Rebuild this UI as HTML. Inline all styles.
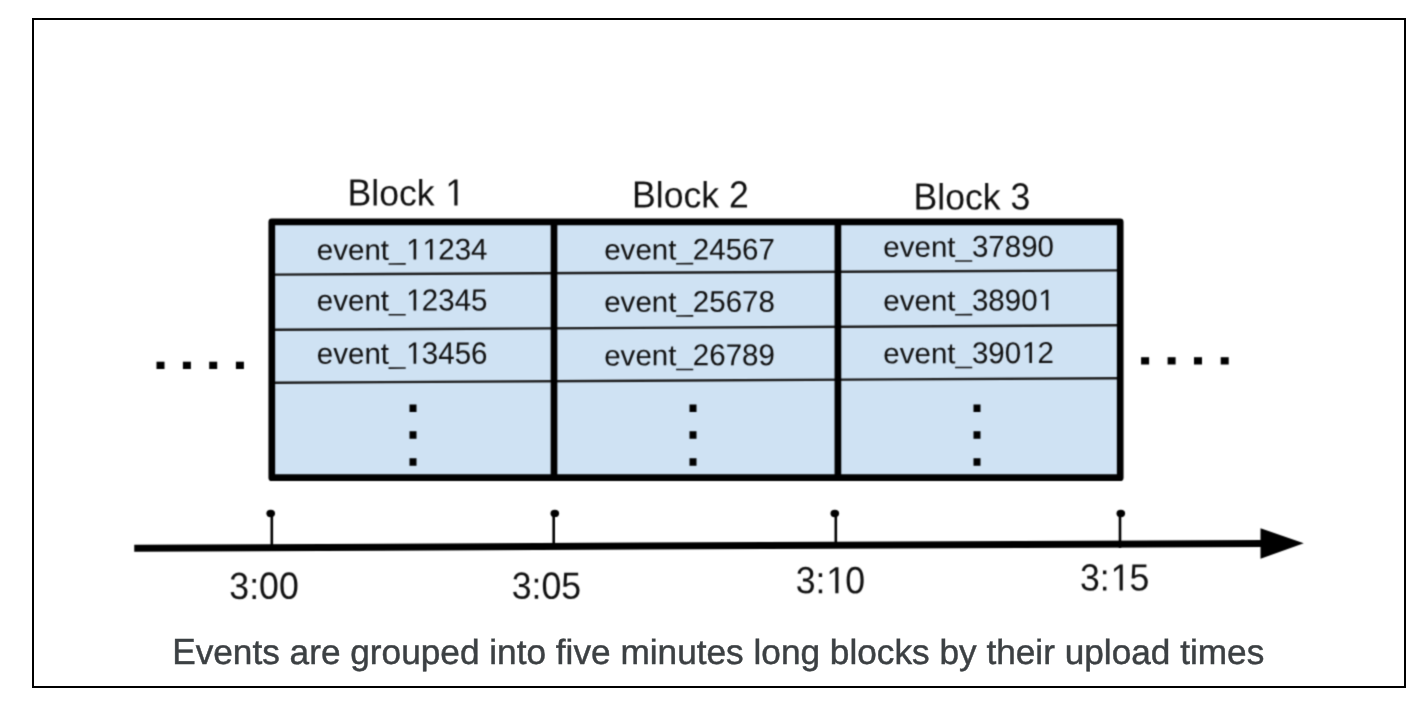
<!DOCTYPE html>
<html>
<head>
<meta charset="utf-8">
<title>Events grouped into blocks</title>
<style>
html,body{margin:0;padding:0;background:#ffffff;}
body{width:1426px;height:706px;overflow:hidden;position:relative;font-family:"Liberation Sans",sans-serif;}
svg{position:absolute;left:0;top:0;display:block;}
text{font-family:"Liberation Sans",sans-serif;text-rendering:geometricPrecision;}
.blk,.ev,.tm{font-kerning:none;fill:#111111;}
.blk{font-size:34px;}
.ev{font-size:29px;}
.tm{font-size:35px;}
.cap{font-size:35px;fill:#3c4043;stroke:#3c4043;stroke-width:0.45px;}
</style>
</head>
<body>
<svg width="1426" height="706" viewBox="0 0 1426 706">
  <!-- outer frame -->
  <rect x="33" y="19" width="1372" height="668" fill="#ffffff" stroke="#000000" stroke-width="2"/>

  <defs>
    <filter id="soft" x="-2%" y="-2%" width="104%" height="104%" color-interpolation-filters="sRGB">
      <feConvolveMatrix order="3" kernelMatrix="1 3 1 3 9 3 1 3 1" edgeMode="none"/>
    </filter>
    <filter id="gray" x="-1%" y="-20%" width="102%" height="140%" color-interpolation-filters="sRGB">
      <feOffset dx="0" dy="0"/>
    </filter>
  </defs>

  <!-- the diagram itself is a slightly soft (upscaled) bitmap in the original -->
  <g filter="url(#soft)">
  <!-- table fill -->
  <rect x="272" y="222" width="848.3" height="255.8" fill="#cfe2f3"/>

  <!-- row separators (slightly tilted) -->
  <g stroke="#1c1c1c" stroke-width="2.4" fill="none">
    <line x1="274" y1="274.6" x2="1118" y2="270.4"/>
    <line x1="274" y1="329.8" x2="1118" y2="325.3"/>
    <line x1="274" y1="382.7" x2="1118" y2="378.2"/>
  </g>

  <!-- table heavy borders -->
  <g stroke="#000000" stroke-width="6.7" fill="none" stroke-linejoin="round" stroke-linecap="butt">
    <rect x="271.8" y="221.9" width="848.4" height="255.8"/>
    <line x1="554" y1="222" x2="554" y2="477.8"/>
    <line x1="837.9" y1="222" x2="837.9" y2="477.8"/>
  </g>

  <!-- block labels -->
  <g transform="translate(347.5 205.55) rotate(-0.05) scale(1.048 1)"><text class="blk" transform="translate(0.00 0) scale(1 1.1128)">B</text><text class="blk" transform="translate(22.68 0) scale(1 1.0700)">lock </text><path d="M515 0V1237L197 1010V1180L530 1409H696V0Z" fill="#111111" transform="translate(93.42 0) scale(0.01660 -0.01847)"/></g>
  <g transform="translate(632.05 207.55) rotate(-0.05) scale(1.048 1)"><text class="blk" transform="translate(0.00 0) scale(1 1.1128)">B</text><text class="blk" transform="translate(22.68 0) scale(1 1.0700)">lock </text><text class="blk" transform="translate(92.59 0) scale(1 1.1128)">2</text></g>
  <g transform="translate(913.5 209.5) rotate(-0.05) scale(1.048 1)"><text class="blk" transform="translate(0.00 0) scale(1 1.1128)">B</text><text class="blk" transform="translate(22.68 0) scale(1 1.0700)">lock </text><text class="blk" transform="translate(92.59 0) scale(1 1.1128)">3</text></g>

  <!-- events -->
  <g transform="translate(316.8 259.7) rotate(-0.05) scale(1.018 1)"><text class="ev" transform="translate(0.00 0) scale(1 0.9904)">event</text><text class="ev" transform="translate(70.94 0) scale(1 0.8616)">_</text><path d="M515 0V1237L197 1010V1180L530 1409H696V0Z" fill="#111111" transform="translate(87.78 0) scale(0.01416 -0.01458)"/><path d="M515 0V1237L197 1010V1180L530 1409H696V0Z" fill="#111111" transform="translate(103.91 0) scale(0.01416 -0.01458)"/><text class="ev" transform="translate(119.33 0) scale(1 1.0300)">234</text></g>
  <g transform="translate(316.8 310.55) rotate(-0.05) scale(1.018 1)"><text class="ev" transform="translate(0.00 0) scale(1 1.0096)">event</text><text class="ev" transform="translate(70.94 0) scale(1 0.8784)">_</text><path d="M515 0V1237L197 1010V1180L530 1409H696V0Z" fill="#111111" transform="translate(87.78 0) scale(0.01416 -0.01487)"/><text class="ev" transform="translate(103.20 0) scale(1 1.0500)">2345</text></g>
  <g transform="translate(316.8 363.8) rotate(-0.05) scale(1.018 1)"><text class="ev" transform="translate(0.00 0) scale(1 1.0240)">event</text><text class="ev" transform="translate(70.94 0) scale(1 0.8909)">_</text><path d="M515 0V1237L197 1010V1180L530 1409H696V0Z" fill="#111111" transform="translate(87.78 0) scale(0.01416 -0.01508)"/><text class="ev" transform="translate(103.20 0) scale(1 1.0650)">3456</text></g>

  <g transform="translate(604.2 259.6) rotate(-0.05) scale(1.018 1)"><text class="ev" transform="translate(0.00 0) scale(1 0.9904)">event</text><text class="ev" transform="translate(70.94 0) scale(1 0.8616)">_</text><text class="ev" transform="translate(87.07 0) scale(1 1.0300)">24567</text></g>
  <g transform="translate(604.2 311.85) rotate(-0.05) scale(1.018 1)"><text class="ev" transform="translate(0.00 0) scale(1 0.9904)">event</text><text class="ev" transform="translate(70.94 0) scale(1 0.8616)">_</text><text class="ev" transform="translate(87.07 0) scale(1 1.0300)">25678</text></g>
  <g transform="translate(604.2 365.4) rotate(-0.05) scale(1.018 1)"><text class="ev" transform="translate(0.00 0) scale(1 1.0000)">event</text><text class="ev" transform="translate(70.94 0) scale(1 0.8700)">_</text><text class="ev" transform="translate(87.07 0) scale(1 1.0400)">26789</text></g>

  <g transform="translate(883.3 256.85) rotate(-0.05) scale(1.018 1)"><text class="ev" transform="translate(0.00 0) scale(1 1.0000)">event</text><text class="ev" transform="translate(70.94 0) scale(1 0.8700)">_</text><text class="ev" transform="translate(87.07 0) scale(1 1.0400)">37890</text></g>
  <g transform="translate(883.3 310.5) rotate(-0.05) scale(1.018 1)"><text class="ev" transform="translate(0.00 0) scale(1 0.9952)">event</text><text class="ev" transform="translate(70.94 0) scale(1 0.8658)">_</text><text class="ev" transform="translate(87.07 0) scale(1 1.0350)">3890</text><path d="M515 0V1237L197 1010V1180L530 1409H696V0Z" fill="#111111" transform="translate(152.29 0) scale(0.01416 -0.01466)"/></g>
  <g transform="translate(883.3 363.25) rotate(-0.05) scale(1.018 1)"><text class="ev" transform="translate(0.00 0) scale(1 1.0000)">event</text><text class="ev" transform="translate(70.94 0) scale(1 0.8700)">_</text><text class="ev" transform="translate(87.07 0) scale(1 1.0400)">390</text><path d="M515 0V1237L197 1010V1180L530 1409H696V0Z" fill="#111111" transform="translate(136.16 0) scale(0.01416 -0.01473)"/><text class="ev" transform="translate(151.58 0) scale(1 1.0400)">2</text></g>

  <!-- vertical dots in table -->
  <g fill="#000000">
    <rect x="409.5" y="404.5" width="7" height="7.5"/>
    <rect x="409.5" y="431.25" width="7" height="7.5"/>
    <rect x="409.5" y="458.25" width="7" height="7.5"/>

    <rect x="689.5" y="404.5" width="7" height="7.5"/>
    <rect x="689.5" y="431.25" width="7" height="7.5"/>
    <rect x="689.5" y="458.25" width="7" height="7.5"/>

    <rect x="973.5" y="404.5" width="7" height="7.5"/>
    <rect x="973.5" y="431.25" width="7" height="7.5"/>
    <rect x="973.5" y="458.25" width="7" height="7.5"/>
  </g>

  <!-- horizontal dots left / right -->
  <g fill="#000000">
    <rect x="156.5" y="361.7" width="8" height="7.3"/>
    <rect x="182.9" y="361.7" width="8" height="7.3"/>
    <rect x="209.2" y="361.7" width="8" height="7.3"/>
    <rect x="235.9" y="361.7" width="8" height="7.3"/>

    <rect x="1141.1" y="357.2" width="8" height="7.3"/>
    <rect x="1167.6" y="357.2" width="8" height="7.3"/>
    <rect x="1194" y="357.2" width="8" height="7.3"/>
    <rect x="1220.7" y="357.2" width="8" height="7.3"/>
  </g>

  <!-- axis -->
  <line x1="134.25" y1="548.2" x2="1264" y2="543.5" stroke="#000000" stroke-width="7"/>
  <polygon points="1260.5,528.25 1303.75,543.25 1260.5,558.75" fill="#000000"/>

  <!-- ticks -->
  <g stroke="#000000" stroke-width="2.6">
    <line x1="271.8" y1="514" x2="271.8" y2="547"/>
    <line x1="553.7" y1="514" x2="553.7" y2="546"/>
    <line x1="835.8" y1="514" x2="835.8" y2="545"/>
    <line x1="1120" y1="514" x2="1120" y2="548"/>
  </g>
  <g fill="#000000">
    <ellipse cx="270.7" cy="513.5" rx="4.3" ry="3.7"/>
    <ellipse cx="554.8" cy="513.4" rx="4.3" ry="3.7"/>
    <ellipse cx="834.8" cy="513.5" rx="4.3" ry="3.7"/>
    <ellipse cx="1120.8" cy="513.5" rx="4.3" ry="3.7"/>
  </g>

  <!-- time labels -->
  <g transform="translate(229.3 598.9) rotate(-0.05) scale(1.02 1)"><text class="tm" transform="translate(0.00 0) scale(1 1.0800)">3:00</text></g>
  <g transform="translate(511.7 598.8) rotate(-0.05) scale(1.02 1)"><text class="tm" transform="translate(0.00 0) scale(1 1.0800)">3:05</text></g>
  <g transform="translate(795.7 593.2) rotate(-0.05) scale(1.02 1)"><text class="tm" transform="translate(0.00 0) scale(1 1.0800)">3:</text><path d="M515 0V1237L197 1010V1180L530 1409H696V0Z" fill="#111111" transform="translate(30.04 0) scale(0.01709 -0.01846)"/><text class="tm" transform="translate(48.65 0) scale(1 1.0800)">0</text></g>
  <g transform="translate(1080.0 590.6) rotate(-0.05) scale(1.02 1)"><text class="tm" transform="translate(0.00 0) scale(1 1.0800)">3:</text><path d="M515 0V1237L197 1010V1180L530 1409H696V0Z" fill="#111111" transform="translate(30.04 0) scale(0.01709 -0.01846)"/><text class="tm" transform="translate(48.65 0) scale(1 1.0800)">5</text></g>
  </g>

  <!-- caption (identity filter => grayscale text anti-aliasing, as in the original) -->
  <g filter="url(#gray)" transform="translate(172.2 663.9) scale(1.006 1)">
    <text class="cap" transform="scale(1 1.04)">E</text>
    <text class="cap" x="23.34">vents are grouped into five minutes long blocks by their upload times</text>
  </g>
</svg>
</body>
</html>
